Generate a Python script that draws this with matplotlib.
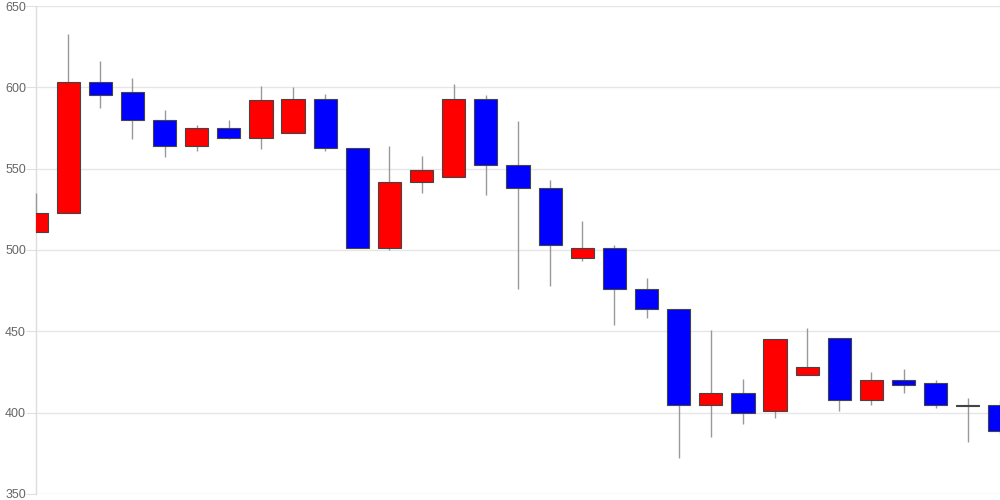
import matplotlib
matplotlib.use("Agg")
import matplotlib.pyplot as plt
import numpy as np

opens  = [511, 523, 603, 597, 580, 564, 575, 569, 572, 593, 563, 501, 542, 545, 593, 552,
          538, 495, 501, 476, 464, 405, 412, 401, 423, 446, 408, 420, 418, 405, 405]
closes = [523, 603, 595, 580, 564, 575, 569, 592, 593, 563, 501, 542, 549, 593, 552, 538,
          503, 501, 476, 464, 405, 412, 400, 445, 428, 408, 420, 417, 405, 404, 389]
highs  = [535, 633, 616, 606, 586, 577, 580, 601, 600, 596, 563, 564, 558, 602, 595, 579,
          543, 518, 503, 483, 464, 451, 421, 445, 452, 446, 425, 427, 420, 409, 408]
lows   = [511, 523, 587, 568, 557, 561, 568, 562, 572, 561, 501, 500, 535, 545, 534, 476,
          478, 493, 454, 458, 372, 385, 393, 397, 423, 401, 405, 412, 403, 382, 387]
y_ticks = [350, 400, 450, 500, 550, 600, 650]

plt.rcParams['font.family'] = ['Liberation Sans', 'DejaVu Sans']

fig = plt.figure(figsize=(10, 5), dpi=100)
ax = fig.add_axes([0.036, 0.012, 0.964, 0.976])

x = np.arange(len(opens))
o = np.array(opens); c = np.array(closes)
up = c >= o
colors = np.where(up, "#ff0000", "#0000ff")
ax.vlines(x, lows, highs, color="#999999", linewidth=1.0, zorder=2.6, clip_on=False)
bottoms = np.minimum(o, c)
heights = np.maximum(np.abs(c - o), 0.6)
ax.bar(x, heights, bottom=bottoms, width=0.72, color=colors,
       edgecolor="#444444", linewidth=0.8, zorder=3)

ax.set_xlim(0, len(opens) - 1)
ax.set_ylim(350, 650)
ax.set_yticks(y_ticks)
ax.set_xticks([])
ax.grid(axis="y", color="#e6e6e6", linewidth=1.0, zorder=0)
ax.set_axisbelow(True)
for s in ["top", "right", "bottom"]:
    ax.spines[s].set_visible(False)
ax.spines["left"].set_color("#dddddd")
ax.spines["left"].set_linewidth(1.0)
ax.tick_params(axis="y", length=7.2, color="#e0e0e0", labelsize=9, labelcolor="#666666", pad=0)

fig.savefig("out.png", dpi=100)
